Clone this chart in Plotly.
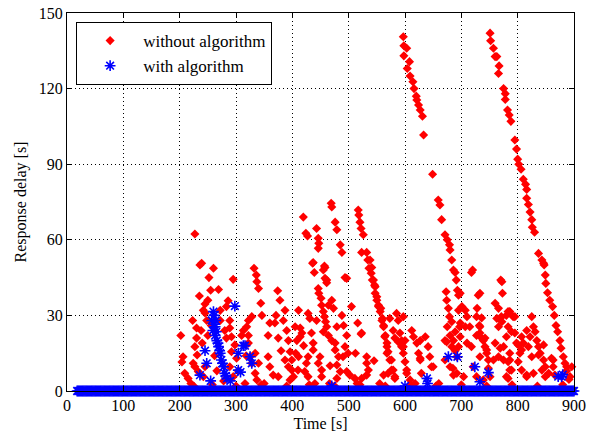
import plotly.graph_objects as go

# ---- axis ticks ----
x_ticks = [0, 100, 200, 300, 400, 500, 600, 700, 800, 900]
y_ticks = [0, 30, 60, 90, 120, 150]

# ---- "without algorithm" (red) : (time [s], delay [s]) ----
red_200s = [
    (202, 22), (204, 11.5), (206, 13.6), (209, 7), (227, 62.3), (239, 50.7), (260, 48.7),
    (295, 44.3), (269, 40.3), (235, 37.7), (286, 35.8), (245, 34.5), (242, 32), (272, 32),
    (283, 33.5), (223, 28), (230, 25), (248, 28), (245, 31), (230, 21), (227, 17.6),
    (231, 14.3), (224, 11), (233, 7.7), (245, 9.6), (242, 5.7), (289, 28), (289, 25),
    (292, 21.5), (298, 18.3), (292, 15.6), (301, 13), (289, 9.6), (295, 5.7), (272, 28),
    (280, 24), (283, 21), (252, 45), (255, 40), (250, 36), (236, 50), (227, 9.6), (215, 5),
    (220, 3), (262, 14), (266, 8), (278, 4), (250, 22), (256, 26), (240, 19), (238, 24),
]
red_300s = [
    (313, 24), (310, 22), (334, 15), (340, 11), (334, 7), (337, 4.4), (357, 13.6), (360, 9.6),
    (366, 6.3), (375, 5.7), (387, 12.3), (393, 9.6), (405, 25.5), (408, 20), (406, 15),
    (396, 4.4), (319, 25.5), (322, 22), (322, 19), (322, 28), (328, 29.5), (346, 30),
    (357, 22), (375, 21), (360, 27), (369, 27), (387, 32), (384, 28), (390, 24), (393, 20),
    (396, 15.6), (399, 12.3), (399, 8.3), (402, 5.7), (332, 48.7), (336, 46), (337, 43.4),
    (340, 40.7), (374, 39.8), (344, 34.8), (318, 14), (325, 13.6), (328, 11), (304, 8),
    (316, 3), (350, 3), (380, 16), (378, 36), (371, 30),
]
red_400s = [
    (469, 74.5), (470, 73), (419.5, 69), (476, 67), (479, 64), (424, 62.6), (427, 61.5),
    (443, 64.5), (446, 60.6), (447, 58.6), (446, 56.6), (485, 58), (488, 55), (437, 51),
    (439, 47), (457, 49.6), (455, 48), (458, 44.7), (461, 43), (493.5, 45), (496.5, 44.7),
    (446, 40.7), (447, 38.8), (451, 36.8), (470, 36), (473, 32.8), (464, 34), (452, 34),
    (455, 31.5), (457, 29.5), (459, 27.5), (461, 25.5), (455, 23.5), (464, 22), (470, 20),
    (476, 19), (479, 25.5), (476, 16.3), (482, 13.6), (479, 10.3), (485, 7.7), (479, 5),
    (428, 30.8), (431, 28.8), (411, 32), (414, 25), (417, 23), (414, 21.5), (434, 23),
    (437, 19), (437, 16.3), (428, 13.6), (425, 11), (422, 7.7), (428, 5.7), (411, 13.6),
    (410, 8.3), (449, 13.6), (452, 8.3), (452, 5.7), (446, 11), (496.5, 22), (493.5, 17.6),
    (499, 15), (496.5, 7.7), (436, 50.7), (458, 49), (461, 44), (466, 3), (440, 3),
    (490, 13.6), (420, 18), (443, 28), (467, 10), (488, 30), (491, 26),
]
red_500s = [
    (502, 6.3), (511, 5), (505, 33.5), (516, 27), (522, 22.6), (517, 71.8), (518, 69.8),
    (520, 67), (522, 64.5), (526, 62), (523, 55), (532, 55), (534, 52), (536, 48.7),
    (540, 46.7), (542, 44), (546, 42), (547, 38.8), (550, 36), (553, 34), (557, 32.8),
    (560, 28.8), (562, 26), (564, 21.5), (568, 17.6), (573, 28.8), (579, 24), (582, 21),
    (588, 19.5), (594, 17.6), (568, 15), (576, 12.3), (579, 8.3), (570, 7), (582, 5),
    (562, 6.3), (532, 13.6), (532, 11), (535, 8.3), (532, 6.3), (523, 5), (538, 52),
    (541, 49), (544, 44), (547, 41.4), (550, 37.4), (553, 33.5), (556, 31.5), (559, 28),
    (562, 25.5), (565, 22), (568, 19), (570, 15.6), (573, 12.3), (576, 8.3), (582, 5.7),
    (585, 30.8), (588, 28), (591, 23), (594, 20), (597, 17.6), (597, 15), (523, 23),
    (512, 15), (545, 12), (555, 3), (515, 3),
]
red_600s = [
    (597, 140.6), (598, 137), (603, 136), (598, 133), (608, 130.7), (604, 128), (609, 125),
    (614, 122.7), (616, 120), (620, 117), (621, 115.5), (624, 113.5), (627, 111.5),
    (631, 109), (633, 101.6), (649, 86), (659, 75.8), (662, 73.8), (665, 68), (671, 62),
    (675, 60), (679, 58), (680, 56), (683, 52), (686, 48), (691, 44), (689, 47),
    (600, 11.6), (603, 8.3), (612, 24), (615, 21.5), (621, 19), (624, 15), (627, 12.3),
    (636, 21.5), (641, 17.6), (644, 13.6), (647, 9.6), (629, 7), (609, 4.4), (673, 39.4),
    (674, 36), (677, 32.8), (679, 29.5), (675, 25.5), (680, 22), (674, 19.5), (683, 17.6),
    (693, 40), (695, 38), (697, 25.5), (698, 21.5), (695, 17.6), (685, 9), (692, 7),
    (597, 29.5), (600, 20), (627, 20), (627, 13), (603, 7), (650, 9.6), (671, 20),
    (671, 12.3), (680, 9.6), (686, 6.3), (698, 38.8), (701, 33.5), (695, 32), (698, 27),
    (689, 23.5), (683, 27.5), (686, 20), (689, 16), (692, 13.6), (660, 3), (618, 3),
]
red_700s = [
    (751, 142), (752, 139), (757, 136), (760, 132.7), (763, 132.7), (767, 129), (766, 126),
    (775, 120), (778, 118), (778, 115.7), (782, 111.5), (785, 109.5), (788, 107),
    (795, 99.6), (798, 96), (704, 5.7), (707, 32), (710, 29.5), (715, 25.5), (720, 48),
    (718, 47), (730, 38), (728, 32.8), (727, 29.5), (732, 26), (733, 23), (739, 20),
    (742, 17.6), (745, 15), (748, 12.3), (748, 9), (739, 4.4), (721, 9.6), (727, 5.7),
    (766, 32.8), (770, 44), (773, 38.8), (771, 29.5), (780, 30), (786, 31.5), (792, 29.5),
    (783, 25.5), (780, 21.5), (775, 17.6), (786, 15), (783, 11.6), (786, 8.3), (780, 5.7),
    (795, 23), (798, 19), (707, 25.5), (710, 19), (718, 17.6), (727, 22), (736, 21),
    (742, 21), (745, 16.3), (733, 13.6), (760, 34.8), (763, 28.8), (766, 25.5), (760, 19),
    (757, 12.3), (751, 5.7), (733, 38.8), (736, 29), (733, 25.5), (772, 43.4), (783, 31.5),
    (769, 28.8), (772, 27.5), (789, 23.5), (769, 17), (766, 13.6), (775, 12.3), (795, 29.5),
]
red_800s = [
    (800, 92), (802, 90), (806, 88), (810, 84), (814, 82), (816, 80), (816, 76.5), (819, 74),
    (822, 71), (825, 68), (826, 65), (830, 63), (837, 54.6), (843, 52), (847, 50),
    (846, 50.7), (849, 46), (850, 42.7), (853, 39), (857, 36), (862, 33.5), (865, 30),
    (868, 26), (871, 23.5), (875, 20), (877, 17), (881, 13.6), (884, 11), (887, 8),
    (891, 4.6), (804, 15), (801, 11.6), (807, 8.3), (816, 5.7), (810, 19), (822, 21.5),
    (825, 29.5), (828, 25.5), (831, 23.5), (834, 20), (837, 17.6), (840, 15), (846, 12.3),
    (849, 9.6), (855, 7), (860, 13), (863, 9.6), (866, 6.3), (846, 18.3), (828, 7),
    (893, 5.7), (887, 9.6), (816, 24), (807, 21.5), (801, 18.3), (807, 16.3), (819, 17.6),
    (825, 13.6), (837, 14.3), (786, 12.3), (789, 8.3), (783, 5), (816, 6.3), (843, 8.3),
    (849, 5.7), (863, 12.3), (896, 9.6),
]
red_low = [
    (225, 2), (258, 2.5), (300, 2), (345, 2.5), (390, 2), (430, 2.5), (475, 2), (520, 2.5),
    (565, 2), (610, 2.5), (655, 2), (700, 2.5), (745, 2), (790, 2.5), (835, 2), (880, 2.5),
]

# ---- "with algorithm" (blue) ----
blue_time_grid = list(range(18, 901, 2))          # sampling instants, delay read as 0
blue_zero_delay = [0] * len(blue_time_grid)
blue_nonzero = [
    (260, 31.5), (257, 28), (259, 24), (263, 22), (266, 20), (269, 17.6), (272, 15),
    (274, 12.3), (278, 9.6), (280, 7), (284, 5), (245, 16), (248, 11), (236, 6.3),
    (298, 33.7), (313, 18), (304, 15), (325, 13.6), (328, 11), (304, 8.3), (308, 7.5),
    (263, 25.5), (264, 28), (261, 30), (262, 26.5), (265, 23.5), (268, 19), (271, 16),
    (276, 11), (282, 6), (255, 4), (290, 4), (677, 13.6), (693, 13.6), (724, 9.6),
    (748, 7.3), (639, 5), (640, 3), (733, 3.7), (878, 5.7), (872, 5.7), (880, 6.5),
    (316, 18), (600, 2), (470, 2),
]

red_groups = [red_200s, red_300s, red_400s, red_500s, red_600s, red_700s, red_800s, red_low]
red_t = [p[0] for g in red_groups for p in g]
red_d = [p[1] for g in red_groups for p in g]
blue_t = blue_time_grid + [p[0] for p in blue_nonzero]
blue_d = blue_zero_delay + [p[1] for p in blue_nonzero]

SERIF = "Liberation Serif"

fig = go.Figure()
fig.add_trace(go.Scatter(
    x=red_t, y=red_d, mode="markers", name="without algorithm",
    marker=dict(symbol="diamond", size=7, color="#ff0000", line=dict(width=0)),
    cliponaxis=False,
))
fig.add_trace(go.Scatter(
    x=blue_t, y=blue_d, mode="markers", name="with algorithm",
    marker=dict(symbol="asterisk-open", size=9, color="#0000ff",
                line=dict(width=1.6, color="#0000ff")),
    cliponaxis=False,
))

axis_common = dict(
    showline=True, linecolor="black", linewidth=1, mirror="ticks",
    ticks="inside", ticklen=5, tickcolor="black", tickwidth=1,
    showgrid=True, gridcolor="black", gridwidth=1, griddash="1px,3px",
    zeroline=False, tickfont=dict(family=SERIF, size=16, color="black"),
)
fig.update_layout(
    template="none",
    width=589, height=441,
    margin=dict(l=67, r=15, t=13, b=50),
    paper_bgcolor="white", plot_bgcolor="white",
    font=dict(family=SERIF, size=16, color="black"),
    xaxis=dict(range=[0, 900], tickvals=x_ticks,
               title=dict(text="Time [s]", standoff=4, font=dict(family=SERIF, size=16)),
               **axis_common),
    yaxis=dict(range=[0, 150], tickvals=y_ticks,
               title=dict(text="Response delay [s]", standoff=8, font=dict(family=SERIF, size=16)),
               **axis_common),
    legend=dict(x=0.018, y=0.976, xanchor="left", yanchor="top",
                bordercolor="black", borderwidth=1, bgcolor="white",
                font=dict(family=SERIF, size=17, color="black"), itemwidth=56,
                tracegroupgap=0),
    showlegend=True,
)
fig.write_html("out.html")
